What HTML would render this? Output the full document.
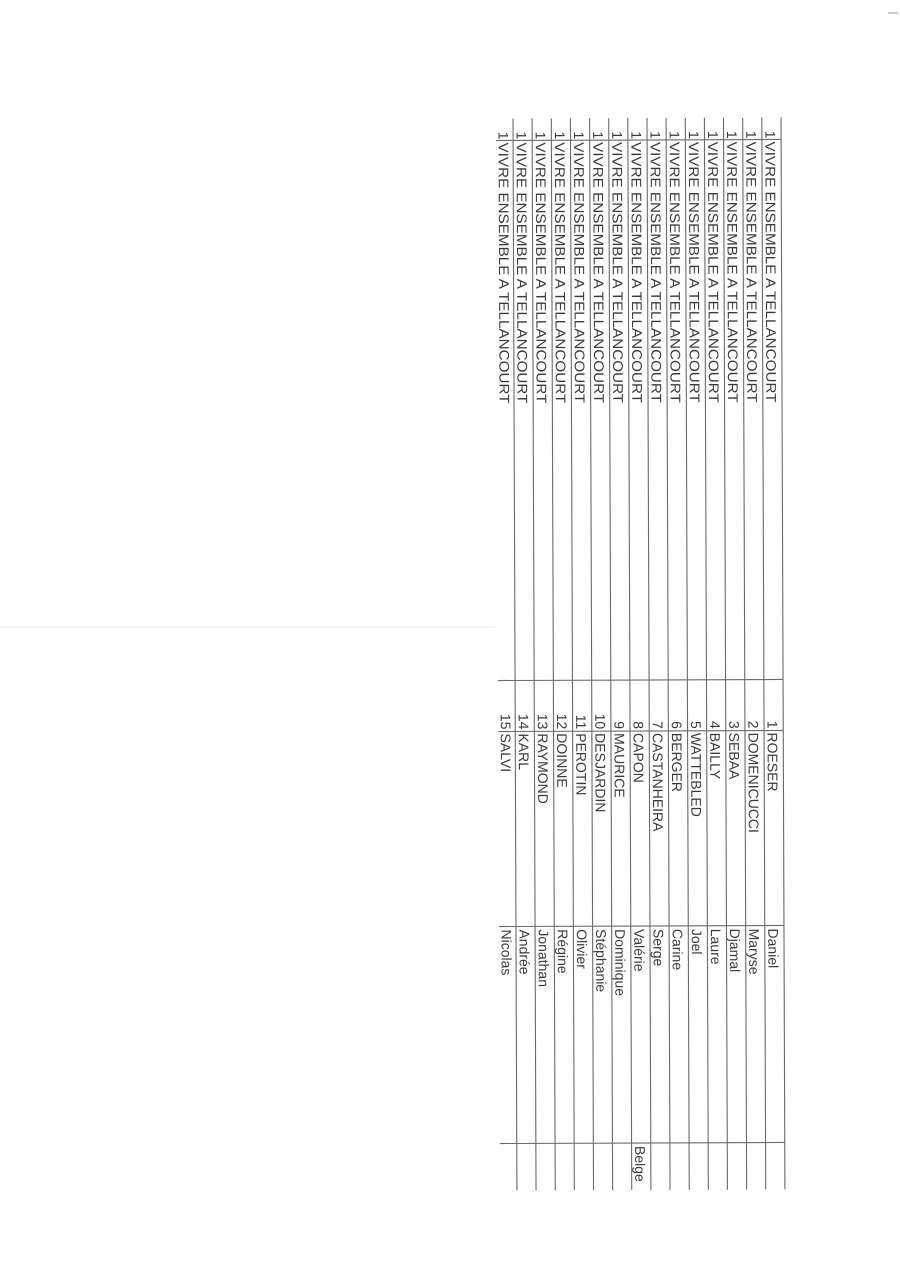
<!DOCTYPE html>
<html><head><meta charset="utf-8"><style>
html,body{margin:0;padding:0;background:#fff;}
svg{display:block}
text{font-family:"Liberation Sans",sans-serif;font-size:14px;fill:#3a3a3a;}
</style></head><body>
<svg width="900" height="1273" viewBox="0 0 900 1273" xmlns="http://www.w3.org/2000/svg">
<line x1="0" y1="627" x2="495" y2="627" stroke="#eeeeee" stroke-width="1"/>
<line x1="888" y1="13" x2="898" y2="13" stroke="#bbbbbb" stroke-width="1.5"/>
<g transform="rotate(-0.21 640 118)">
<g stroke="#6a6a6a" stroke-width="1.1">
<line x1="513" y1="118" x2="513" y2="1190"/>
<line x1="532.1" y1="118" x2="532.1" y2="1190"/>
<line x1="551.3" y1="118" x2="551.3" y2="1190"/>
<line x1="570.4" y1="118" x2="570.4" y2="1190"/>
<line x1="589.6" y1="118" x2="589.6" y2="1190"/>
<line x1="608.7" y1="118" x2="608.7" y2="1190"/>
<line x1="627.8" y1="118" x2="627.8" y2="1190"/>
<line x1="647" y1="118" x2="647" y2="1190"/>
<line x1="666.1" y1="118" x2="666.1" y2="1190"/>
<line x1="685.3" y1="118" x2="685.3" y2="1190"/>
<line x1="704.4" y1="118" x2="704.4" y2="1190"/>
<line x1="723.5" y1="118" x2="723.5" y2="1190"/>
<line x1="742.7" y1="118" x2="742.7" y2="1190"/>
<line x1="761.8" y1="118" x2="761.8" y2="1190"/>
<line x1="781" y1="118" x2="781" y2="1190"/>
<line x1="496" y1="140" x2="781" y2="140"/>
<line x1="496" y1="680" x2="781" y2="680"/>
<line x1="496" y1="731" x2="781" y2="731"/>
<line x1="496" y1="926" x2="781" y2="926"/>
<line x1="496" y1="1143" x2="781" y2="1143"/>
</g>
<g>
<!-- row template: baseline x = left + 3.5 -->
<g transform="translate(765.3,0)"><text transform="translate(0,139) rotate(90)" text-anchor="end">1</text><text transform="translate(0,142) rotate(90)" textLength="261" lengthAdjust="spacingAndGlyphs">VIVRE ENSEMBLE A TELLANCOURT</text><text transform="translate(0,729) rotate(90)" text-anchor="end">1</text><text transform="translate(0,733) rotate(90)">ROESER</text><text transform="translate(0,929) rotate(90)">Daniel</text></g>
<g transform="translate(746.2,0)"><text transform="translate(0,139) rotate(90)" text-anchor="end">1</text><text transform="translate(0,142) rotate(90)" textLength="261" lengthAdjust="spacingAndGlyphs">VIVRE ENSEMBLE A TELLANCOURT</text><text transform="translate(0,729) rotate(90)" text-anchor="end">2</text><text transform="translate(0,733) rotate(90)">DOMENICUCCI</text><text transform="translate(0,929) rotate(90)">Maryse</text></g>
<g transform="translate(727,0)"><text transform="translate(0,139) rotate(90)" text-anchor="end">1</text><text transform="translate(0,142) rotate(90)" textLength="261" lengthAdjust="spacingAndGlyphs">VIVRE ENSEMBLE A TELLANCOURT</text><text transform="translate(0,729) rotate(90)" text-anchor="end">3</text><text transform="translate(0,733) rotate(90)">SEBAA</text><text transform="translate(0,929) rotate(90)">Djamal</text></g>
<g transform="translate(707.9,0)"><text transform="translate(0,139) rotate(90)" text-anchor="end">1</text><text transform="translate(0,142) rotate(90)" textLength="261" lengthAdjust="spacingAndGlyphs">VIVRE ENSEMBLE A TELLANCOURT</text><text transform="translate(0,729) rotate(90)" text-anchor="end">4</text><text transform="translate(0,733) rotate(90)">BAILLY</text><text transform="translate(0,929) rotate(90)">Laure</text></g>
<g transform="translate(688.8,0)"><text transform="translate(0,139) rotate(90)" text-anchor="end">1</text><text transform="translate(0,142) rotate(90)" textLength="261" lengthAdjust="spacingAndGlyphs">VIVRE ENSEMBLE A TELLANCOURT</text><text transform="translate(0,729) rotate(90)" text-anchor="end">5</text><text transform="translate(0,733) rotate(90)">WATTEBLED</text><text transform="translate(0,929) rotate(90)">Joel</text></g>
<g transform="translate(669.6,0)"><text transform="translate(0,139) rotate(90)" text-anchor="end">1</text><text transform="translate(0,142) rotate(90)" textLength="261" lengthAdjust="spacingAndGlyphs">VIVRE ENSEMBLE A TELLANCOURT</text><text transform="translate(0,729) rotate(90)" text-anchor="end">6</text><text transform="translate(0,733) rotate(90)">BERGER</text><text transform="translate(0,929) rotate(90)">Carine</text></g>
<g transform="translate(650.5,0)"><text transform="translate(0,139) rotate(90)" text-anchor="end">1</text><text transform="translate(0,142) rotate(90)" textLength="261" lengthAdjust="spacingAndGlyphs">VIVRE ENSEMBLE A TELLANCOURT</text><text transform="translate(0,729) rotate(90)" text-anchor="end">7</text><text transform="translate(0,733) rotate(90)">CASTANHEIRA</text><text transform="translate(0,929) rotate(90)">Serge</text></g>
<g transform="translate(631.3,0)"><text transform="translate(0,139) rotate(90)" text-anchor="end">1</text><text transform="translate(0,142) rotate(90)" textLength="261" lengthAdjust="spacingAndGlyphs">VIVRE ENSEMBLE A TELLANCOURT</text><text transform="translate(0,729) rotate(90)" text-anchor="end">8</text><text transform="translate(0,733) rotate(90)">CAPON</text><text transform="translate(0,929) rotate(90)">Valérie</text><text transform="translate(0,1146) rotate(90)">Belge</text></g>
<g transform="translate(612.2,0)"><text transform="translate(0,139) rotate(90)" text-anchor="end">1</text><text transform="translate(0,142) rotate(90)" textLength="261" lengthAdjust="spacingAndGlyphs">VIVRE ENSEMBLE A TELLANCOURT</text><text transform="translate(0,729) rotate(90)" text-anchor="end">9</text><text transform="translate(0,733) rotate(90)">MAURICE</text><text transform="translate(0,929) rotate(90)">Dominique</text></g>
<g transform="translate(593.1,0)"><text transform="translate(0,139) rotate(90)" text-anchor="end">1</text><text transform="translate(0,142) rotate(90)" textLength="261" lengthAdjust="spacingAndGlyphs">VIVRE ENSEMBLE A TELLANCOURT</text><text transform="translate(0,729) rotate(90)" text-anchor="end">10</text><text transform="translate(0,733) rotate(90)">DESJARDIN</text><text transform="translate(0,929) rotate(90)">Stéphanie</text></g>
<g transform="translate(573.9,0)"><text transform="translate(0,139) rotate(90)" text-anchor="end">1</text><text transform="translate(0,142) rotate(90)" textLength="261" lengthAdjust="spacingAndGlyphs">VIVRE ENSEMBLE A TELLANCOURT</text><text transform="translate(0,729) rotate(90)" text-anchor="end">11</text><text transform="translate(0,733) rotate(90)">PEROTIN</text><text transform="translate(0,929) rotate(90)">Olivier</text></g>
<g transform="translate(554.8,0)"><text transform="translate(0,139) rotate(90)" text-anchor="end">1</text><text transform="translate(0,142) rotate(90)" textLength="261" lengthAdjust="spacingAndGlyphs">VIVRE ENSEMBLE A TELLANCOURT</text><text transform="translate(0,729) rotate(90)" text-anchor="end">12</text><text transform="translate(0,733) rotate(90)">DOINNE</text><text transform="translate(0,929) rotate(90)">Régine</text></g>
<g transform="translate(535.6,0)"><text transform="translate(0,139) rotate(90)" text-anchor="end">1</text><text transform="translate(0,142) rotate(90)" textLength="261" lengthAdjust="spacingAndGlyphs">VIVRE ENSEMBLE A TELLANCOURT</text><text transform="translate(0,729) rotate(90)" text-anchor="end">13</text><text transform="translate(0,733) rotate(90)">RAYMOND</text><text transform="translate(0,929) rotate(90)">Jonathan</text></g>
<g transform="translate(516.5,0)"><text transform="translate(0,139) rotate(90)" text-anchor="end">1</text><text transform="translate(0,142) rotate(90)" textLength="261" lengthAdjust="spacingAndGlyphs">VIVRE ENSEMBLE A TELLANCOURT</text><text transform="translate(0,729) rotate(90)" text-anchor="end">14</text><text transform="translate(0,733) rotate(90)">KARL</text><text transform="translate(0,929) rotate(90)">Andrée</text></g>
<g transform="translate(498.5,0)"><text transform="translate(0,139) rotate(90)" text-anchor="end">1</text><text transform="translate(0,142) rotate(90)" textLength="261" lengthAdjust="spacingAndGlyphs">VIVRE ENSEMBLE A TELLANCOURT</text><text transform="translate(0,729) rotate(90)" text-anchor="end">15</text><text transform="translate(0,733) rotate(90)">SALVI</text><text transform="translate(0,929) rotate(90)">Nicolas</text></g>
</g>
</g>
</svg>
</body></html>
